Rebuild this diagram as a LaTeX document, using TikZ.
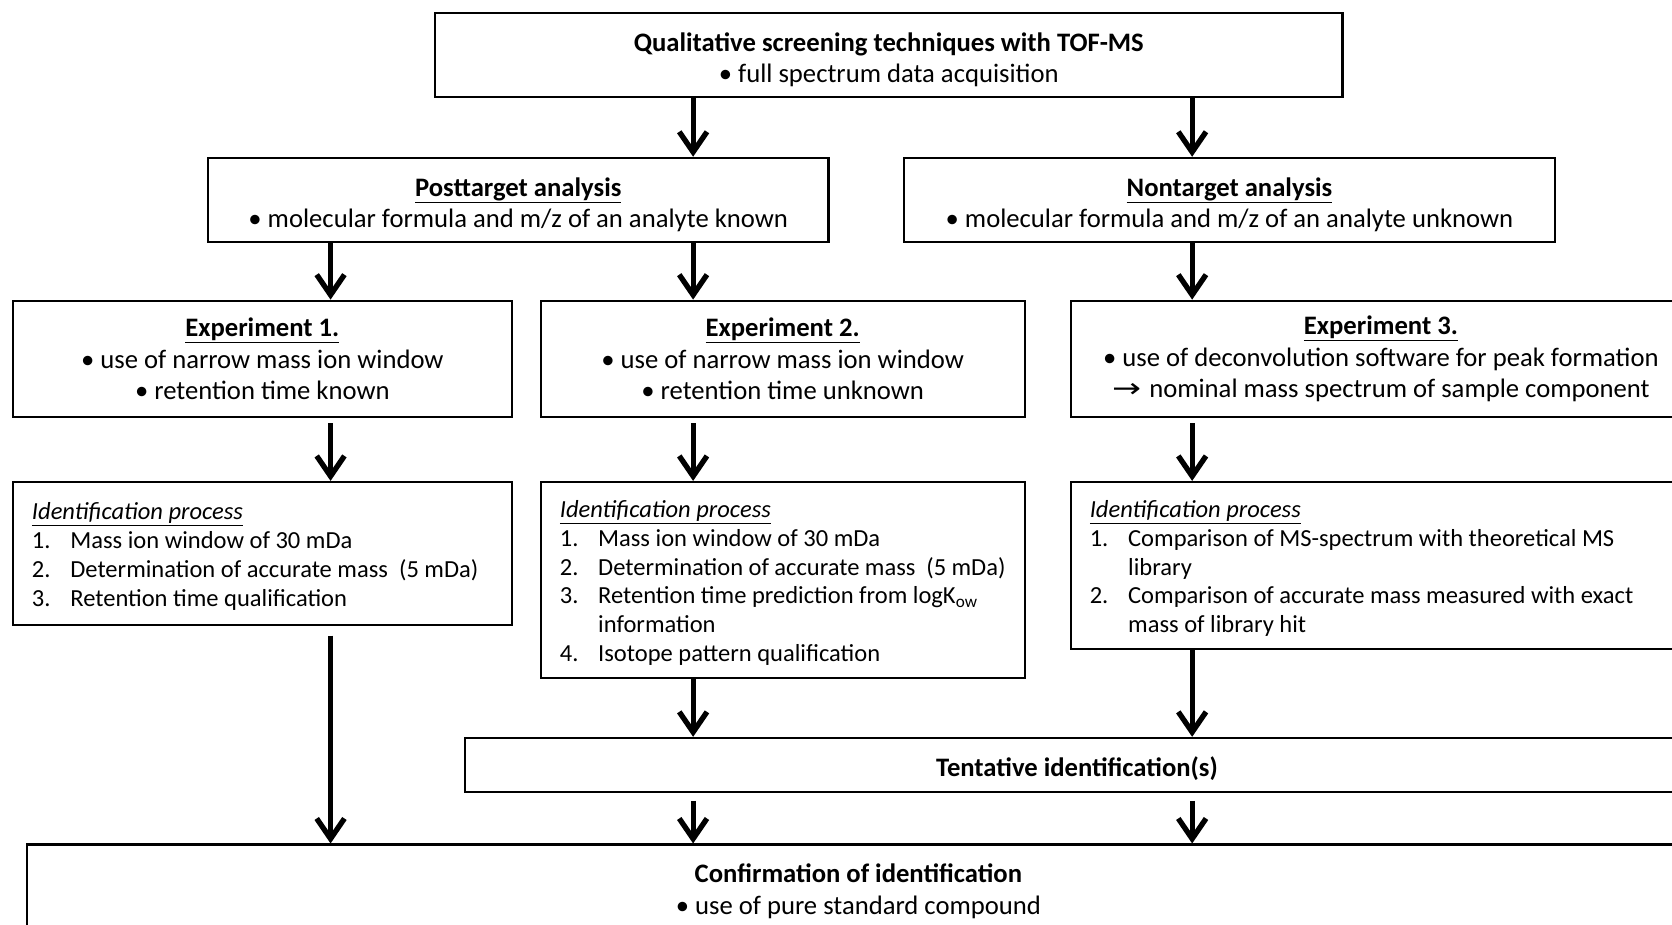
\documentclass[tikz,border=0pt]{standalone}
\usepackage{fontspec}
\usepackage{graphicx}
\setmainfont{Carlito}
\newfontfamily\arrowfont{DejaVu Sans}
\usetikzlibrary{arrows.meta}
\newcommand{\itm}[2]{\par\noindent\hangindent=36pt\hangafter=1\makebox[36pt][l]{#1}#2}
\newcommand{\upst}[1]{\rule{0pt}{#1pt}}
\begin{document}
\begin{tikzpicture}[x=1pt,y=-1pt,
  box/.style={draw, line width=2pt, inner sep=0pt, align=center, font=\fontsize{25}{29.5}\selectfont},
  idbox/.style={draw, line width=2pt, inner xsep=18pt, inner ysep=0pt, align=flush left, font=\fontsize{23}{27}\selectfont},
  arr/.style={line width=4.7pt, -{Straight Barb[length=19pt,width=26pt,line width=5pt]}}]
\useasboundingbox (0,0) rectangle (1568,867);
\coordinate (xa) at (310,0);
\coordinate (xb) at (650,0);
\coordinate (xc) at (1118,0);

\node[box, minimum width=851pt, minimum height=79pt] (top) at (833.5,51.5)
  {\upst{26.5}\textbf{Qualitative screening techniques with TOF-MS}\\• full spectrum data acquisition};
\node[box, minimum width=582pt, minimum height=79pt] (post) at (486,187.5)
  {\upst{26.5}\textbf{\underline{Posttarget analysis}}\\• molecular formula and m/z of an analyte known};
\node[box, minimum width=610pt, minimum height=79pt] (non) at (1153,187.5)
  {\upst{26.5}\textbf{\underline{Nontarget analysis}}\\• molecular formula and m/z of an analyte unknown};

\node[box, minimum width=468pt, minimum height=109pt] (exa) at (246,336.5)
  {\textbf{\underline{Experiment 1.}}\\• use of narrow mass ion window\\• retention time known};
\node[box, minimum width=454pt, minimum height=109pt] (exb) at (734,336.5)
  {\textbf{\underline{Experiment 2.}}\\• use of narrow mass ion window\\• retention time unknown};
\node[box, minimum width=582pt, minimum height=109pt] (exc) at (1295,336.5)
  {\textbf{\underline{Experiment 3.}}\\• use of deconvolution software for peak formation\\\scalebox{1.3}[1]{\arrowfont →}\hspace{2pt} nominal mass spectrum of sample component};

\node[idbox, text width=432pt, minimum height=134pt] (ida) at (246,519)
  {\upst{21.5}\underline{\textit{Identification process}}
   \itm{1.}{Mass ion window of 30 mDa}
   \itm{2.}{Determination of accurate mass \ (5 mDa)}
   \itm{3.}{Retention time qualification}\par};
\node[idbox, text width=418pt, minimum height=184pt] (idb) at (734,544)
  {\upst{21.5}\underline{\textit{Identification process}}
   \itm{1.}{Mass ion window of 30 mDa}
   \itm{2.}{Determination of accurate mass \ (5 mDa)}
   \itm{3.}{Retention time prediction from logK\textsubscript{ow}\newline information}
   \itm{4.}{Isotope pattern qualification}\par};
\node[idbox, text width=546pt, minimum height=157pt] (idc) at (1295,530.5)
  {\upst{21.5}\underline{\textit{Identification process}}
   \itm{1.}{Comparison of MS-spectrum with theoretical MS\newline library}
   \itm{2.}{Comparison of accurate mass measured with exact\newline mass of library hit}\par};

\node[box, minimum width=1148pt, minimum height=51pt] (tent) at (1010,717.5)
  {\upst{24.5}\textbf{Tentative identification(s)}};
\node[box, minimum width=1560pt, minimum height=82pt] (conf) at (805,833)
  {\upst{23}\textbf{Confirmation of identification}\\• use of pure standard compound};

\draw[arr] (top.south -| xb) -- (post.north -| xb);
\draw[arr] (top.south -| xc) -- (non.north -| xc);
\draw[arr] (post.south -| xa) -- (exa.north -| xa);
\draw[arr] (post.south -| xb) -- (exb.north -| xb);
\draw[arr] (non.south -| xc) -- (exc.north -| xc);
\draw[arr, shorten <=5pt] (exa.south -| xa) -- (ida.north -| xa);
\draw[arr, shorten <=5pt] (exb.south -| xb) -- (idb.north -| xb);
\draw[arr, shorten <=5pt] (exc.south -| xc) -- (idc.north -| xc);
\draw[arr, shorten <=9pt] (ida.south -| xa) -- (conf.north -| xa);
\draw[arr] (idb.south -| xb) -- (tent.north -| xb);
\draw[arr] (idc.south -| xc) -- (tent.north -| xc);
\draw[arr, shorten <=7pt] (tent.south -| xb) -- (conf.north -| xb);
\draw[arr, shorten <=7pt] (tent.south -| xc) -- (conf.north -| xc);
\end{tikzpicture}
\end{document}
